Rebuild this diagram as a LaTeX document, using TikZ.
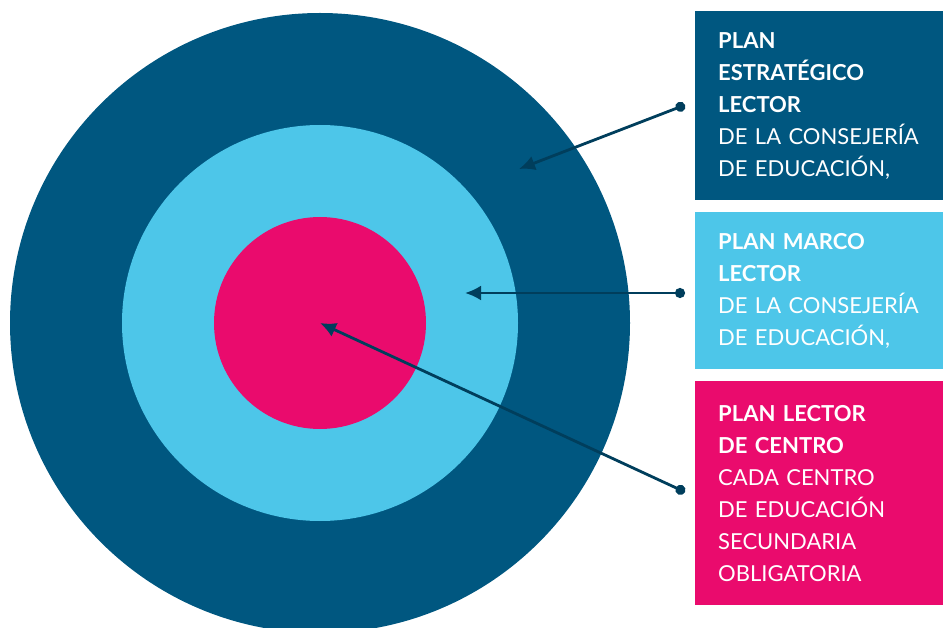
\documentclass[tikz,border=0pt]{standalone}
\usepackage{fontspec}
\setmainfont{Lato}
\usepackage{xcolor}
\usepackage{tikz}
\usetikzlibrary{arrows.meta}
\definecolor{navy}{RGB}{0,87,128}
\definecolor{sky}{RGB}{77,198,233}
\definecolor{rose}{RGB}{234,11,109}
\definecolor{ink}{RGB}{0,62,92}
\tikzstyle{ring} = [circle, inner sep=0pt, draw=none]
\tikzstyle{panel} = [rectangle, anchor=north west, minimum width=248pt, inner xsep=23pt, inner ysep=0pt, text width=202pt, align=left, text=white, font=\fontsize{22}{32}\selectfont]
\tikzstyle{pointer} = [line width=2.8pt, draw=ink, {Circle[length=10pt]}-{Latex[length=16pt,width=15pt]}]

\begin{document}
\begin{tikzpicture}[x=1pt,y=-1pt]
    \useasboundingbox (0,0) rectangle (943,628);

        % Target
        \node (outer) [ring, fill=navy, minimum size=620pt] at (320,323) {};
        \node (middle) [ring, fill=sky, minimum size=396pt] at (320,323) {};
        \node (inner) [ring, fill=rose, minimum size=212pt] at (320,323) {};

        % Panels
        \node (strategic) [panel, fill=navy, minimum height=189pt] at (695,11)
            {\textbf{PLAN}\\\textbf{ESTRATÉGICO}\\\textbf{LECTOR}\\DE LA CONSEJERÍA\\DE EDUCACIÓN,};
        \node (frame) [panel, fill=sky, minimum height=157pt] at (695,212)
            {\textbf{PLAN MARCO}\\\textbf{LECTOR}\\DE LA CONSEJERÍA\\DE EDUCACIÓN,};
        \node (school) [panel, fill=rose, minimum height=224pt] at (695,381)
            {\textbf{PLAN LECTOR}\\\textbf{DE CENTRO}\\CADA CENTRO\\DE EDUCACIÓN\\SECUNDARIA\\OBLIGATORIA};

        % Pointers
        \coordinate (p1) at (685,105);
        \coordinate (p2) at (685,293);
        \coordinate (p3) at (685,492);
        \coordinate (t1) at (519,169);
        \coordinate (t2) at (465,293);
        \draw [pointer] (p1) -- (t1);
        \draw [pointer] (p2) -- (t2);
        \draw [pointer] (p3) -- (inner.center);
    \end{tikzpicture}
\end{document}
